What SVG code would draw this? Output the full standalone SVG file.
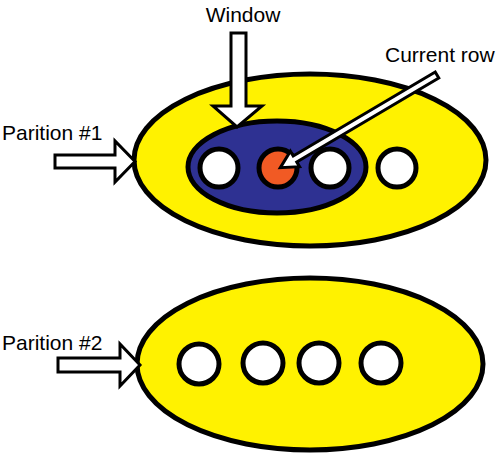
<svg xmlns="http://www.w3.org/2000/svg" width="500" height="453" viewBox="0 0 500 453">
<style>
.part{fill:#FFF200;stroke:#000;stroke-width:5}
.win{fill:#2E3192;stroke:#000;stroke-width:5}
.row{fill:#fff;stroke:#000;stroke-width:5}
.cur{fill:#F15A24;stroke:#000;stroke-width:5}
.arr{fill:#fff;stroke:#000;stroke-width:3;stroke-linejoin:miter}
.lbl{font-family:"Liberation Sans",Arial,sans-serif;font-size:21px;fill:#000}
</style>
<rect width="500" height="453" fill="#fff"/>
<g id="partition1">
<ellipse class="part" cx="310" cy="160" rx="176" ry="86"/>
</g>
<g id="window">
<ellipse class="win" cx="277" cy="167" rx="89" ry="46"/>
</g>
<g id="p1-row1"><circle class="row" cx="219" cy="168" r="19"/></g>
<g id="p1-current"><circle class="cur" cx="278" cy="168" r="19"/></g>
<g id="p1-row3"><circle class="row" cx="330" cy="168" r="19"/></g>
<g id="p1-row4"><circle class="row" cx="397" cy="168" r="19"/></g>
<g id="partition2">
<ellipse class="part" cx="310" cy="364" rx="173" ry="86"/>
</g>
<g id="p2-row1"><circle class="row" cx="199" cy="364" r="20"/></g>
<g id="p2-row2"><circle class="row" cx="263" cy="363" r="20"/></g>
<g id="p2-row3"><circle class="row" cx="319" cy="363" r="20"/></g>
<g id="p2-row4"><circle class="row" cx="381" cy="363" r="20"/></g>
<g id="connectors">
<polygon class="arr" points="55,155 115,155 115,141 135,161.5 115,182 115,168 55,168"/>
<polygon class="arr" points="58,358 120,358 120,344 140,365 120,386 120,372 58,372"/>
<polygon class="arr" points="231,33 246,33 246,106 262,106 237,127 213,106 231,106"/>
<polygon class="arr" transform="translate(437,75) rotate(149.4)" points="0,-3.5 165,-3.5 165,-9 182,0 165,9 165,3.5 0,3.5"/>
</g>
<g id="labels">
<text class="lbl" x="243" y="22" text-anchor="middle">Window</text>
<text class="lbl" x="385" y="62">Current row</text>
<text class="lbl" x="2" y="140">Parition #1</text>
<text class="lbl" x="2" y="350">Parition #2</text>
</g>
</svg>
